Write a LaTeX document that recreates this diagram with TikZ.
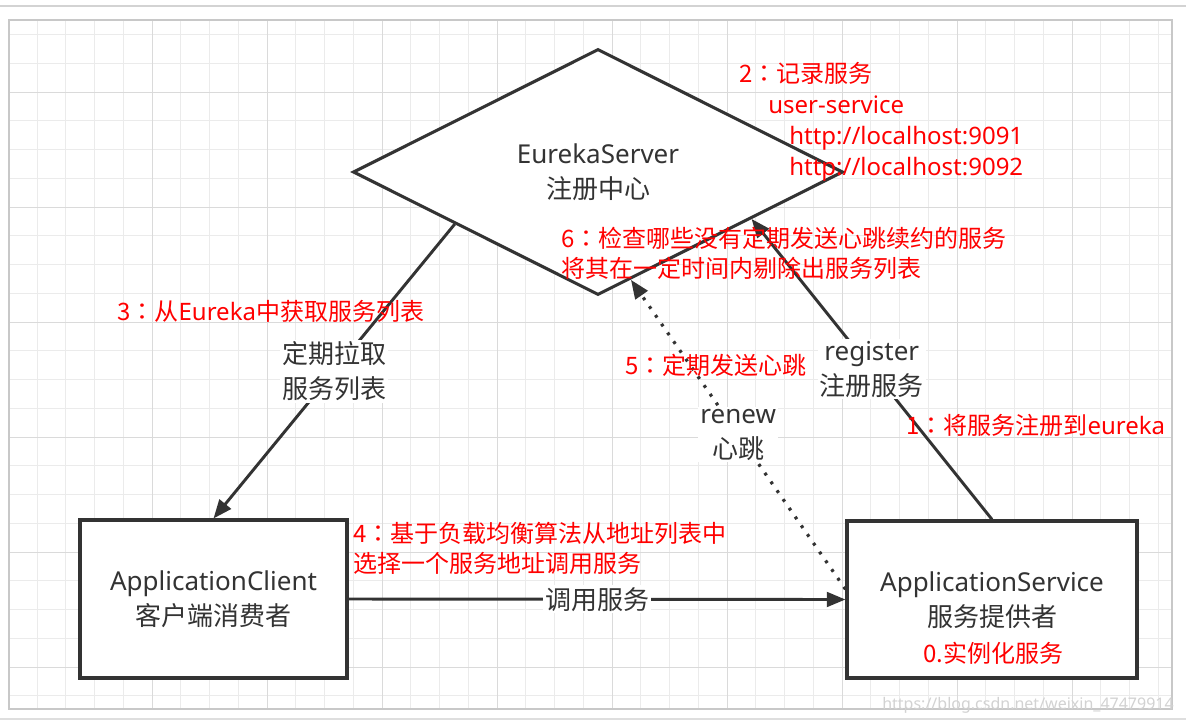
\documentclass[tikz,border=0pt]{standalone}
\usepackage{fontspec}
\setmainfont{Noto Sans CJK SC}
\newfontfamily\lat{Noto Sans}
\newfontfamily\tcfont{Noto Sans CJK TC}
\newcommand{\cc}{{\tcfont ：}}
\usetikzlibrary{shapes.geometric,arrows.meta}
\definecolor{ink}{HTML}{333333}
\definecolor{txtred}{HTML}{FF0000}
\definecolor{gridminor}{HTML}{EBEBEB}
\definecolor{gridmajor}{HTML}{DADADA}
\definecolor{framegray}{HTML}{C8C8C8}
\tikzset{
  box/.style={draw=ink, line width=2.3pt, inner sep=0pt},
  blk/.style={text=ink, font=\fontsize{19.5pt}{26.25pt}\selectfont, align=center},
  lbl/.style={blk, fill=white, inner sep=1.5pt},
  rednote/.style={text=txtred, font=\fontsize{18pt}{22.5pt}\selectfont, anchor=base west, inner sep=0pt},
  conn/.style={draw=ink, line width=2.2pt, -{Triangle[length=14pt,width=11pt]}},
  dotconn/.style={conn, line cap=butt, line width=2.4pt, dash pattern=on 2.2pt off 5.8pt},
}
\begin{document}
\begin{tikzpicture}[x=0.75pt,y=-0.75pt]
\useasboundingbox (0,0) rectangle (1186,722);
\fill[white] (0,0) rectangle (1186,722);
% page lines
\draw[framegray!80, line width=1.5pt] (0,6) -- (1186,6);
\draw[framegray!60, line width=1pt] (0,719) -- (1186,719);
% grid
\foreach \i in {1,...,40} \draw[gridminor, line width=0.75pt] ({8.25+\i*28.75},20) -- ({8.25+\i*28.75},709);
\foreach \k in {1,...,24} \draw[gridminor, line width=0.75pt] (9,{5.75+\k*28.75}) -- (1172,{5.75+\k*28.75});
\foreach \i in {0,...,8} \draw[gridmajor, line width=0.75pt] ({152+\i*115},20) -- ({152+\i*115},709);
\foreach \k in {0,...,5} \draw[gridmajor, line width=0.75pt] (9,{92+\k*115}) -- (1172,{92+\k*115});
\draw[framegray, line width=1.2pt] (9,20) rectangle (1172,709);

% main shapes
\node[box, blk, shape=diamond, fill=white, minimum width=367.5pt, minimum height=184.5pt] (eureka) at (598,172) {{\lat EurekaServer}\\注册中心};
\node[box, blk, fill=white, minimum width=200.25pt, minimum height=118.5pt] (client) at (213.5,599) {{\lat ApplicationClient}\\客户端消费者};
\node[box, fill=white, minimum width=217.5pt, minimum height=117.75pt] (service) at (992,599.5) {};
\node[blk] (servicetxt) at (992,600) {{\lat ApplicationService}\\服务提供者};
\node[text=txtred, font=\fontsize{18pt}{22.5pt}\selectfont, inner sep=0pt] (inst) at (993,653) {0.实例化服务};

% connectors
\draw[conn] (eureka.200) -- node[lbl, pos=0.5] (lpull) {定期拉取\\服务列表} (client.north);
\draw[conn] (service.north) -- node[lbl, pos=0.5] (lreg) {{\lat register}\\注册服务} (eureka.343);
\draw[dotconn] (service.176) -- node[lbl, pos=0.5] (lrenew) {{\lat renew}\\心跳} (eureka.287);
\draw[conn] (client.east) -- node[lbl] (lcall) {调用服务} (service.west);

% red notes
\node[rednote] (n2a) at (739,82) {2\cc 记录服务};
\node[rednote] (n2b) at (768,113) {{\lat user-service}};
\node[rednote] (n2c) at (789,144) {{\lat http://localhost:9091}};
\node[rednote] (n2d) at (789,175) {{\lat http://localhost:9092}};
\node[rednote] (n6a) at (561,247) {6\cc 检查哪些没有定期发送心跳续约的服务};
\node[rednote] (n6b) at (561,277) {将其在一定时间内剔除出服务列表};
\node[rednote] (n3) at (117,320) {3\cc 从{\lat Eureka}中获取服务列表};
\node[rednote] (n5) at (625,374) {5\cc 定期发送心跳};
\node[rednote] (n1) at (906,434) {1\cc 将服务注册到{\lat eureka}};
\node[rednote] (n4a) at (353,542) {4\cc 基于负载均衡算法从地址列表中};
\node[rednote] (n4b) at (353,572) {选择一个服务地址调用服务};

% watermark
\node[text=gray!35, font=\lat\fontsize{12pt}{14pt}\selectfont, anchor=base east, inner sep=0pt] (wm) at (1174,709) {https://blog.csdn.net/weixin\_47479914};
\end{tikzpicture}
\end{document}
